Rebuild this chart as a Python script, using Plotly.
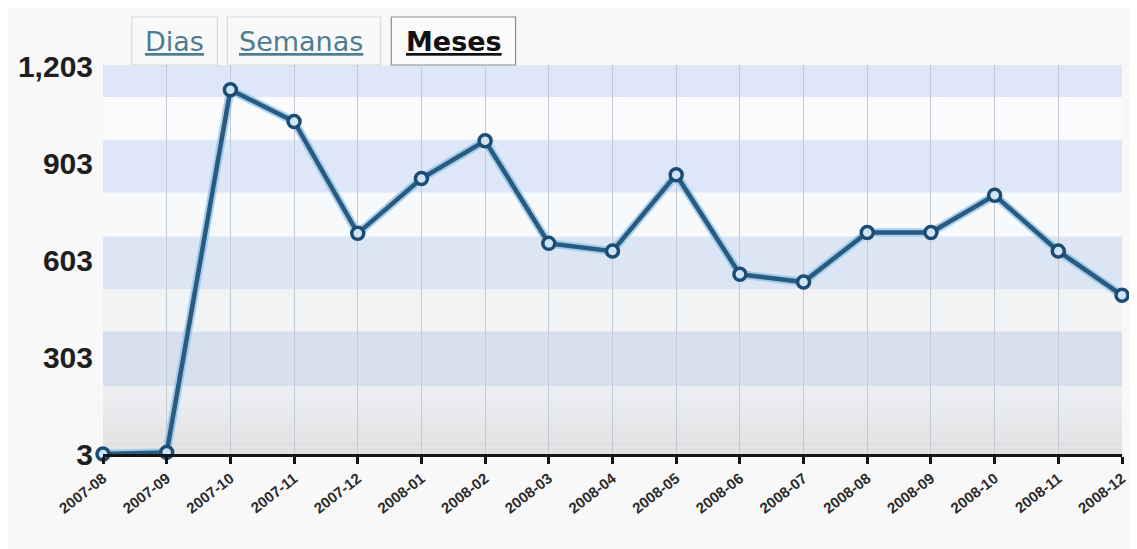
import plotly.graph_objects as go

# ---- data ----
months = ["2007-08", "2007-09", "2007-10", "2007-11", "2007-12", "2008-01", "2008-02",
          "2008-03", "2008-04", "2008-05", "2008-06", "2008-07", "2008-08", "2008-09",
          "2008-10", "2008-11", "2008-12"]
visits = [3, 8, 1132, 1034, 687, 857, 974, 656, 632, 869, 560, 536, 690, 690, 805, 632, 495]
y_tick_vals = [3, 303, 603, 903, 1203]
y_tick_text = ["3", "303", "603", "903", "1,203"]
tab_labels = ["Dias", "Semanas", "Meses"]

# ---- style constants ----
Y_MIN, Y_MAX = 3, 1209
band_edges = [1209, 1110, 977, 813, 677, 513, 383, 213]
band_colors = ["#dde7f8", "#fbfbfd", "#dde7f7", "#f8f9fb", "#dce5f4", "#f2f3f5", "#d6dfee"]
OFF = 8  # browser default body margin
PLOT_L, PLOT_R, PLOT_T, PLOT_B = 103, 1128, 65, 454  # page pixel positions
W, H = 1137 - OFF, 549 - OFF

def px_x(px):
    return (px - PLOT_L) / (PLOT_R - PLOT_L)

def px_y(py):
    return (PLOT_B - py) / (PLOT_B - PLOT_T)

x_idx = list(range(len(months)))

fig = go.Figure()

# halo under the line
fig.add_trace(go.Scatter(
    x=x_idx, y=visits, mode="lines",
    line=dict(color="rgba(140,195,235,0.75)", width=8.5),
    hoverinfo="skip", cliponaxis=False, showlegend=False))
# main line with ring markers
fig.add_trace(go.Scatter(
    x=x_idx, y=visits, mode="lines+markers",
    line=dict(color="#2a5a7f", width=4.5),
    marker=dict(symbol="circle", size=12, color="#cfe5f6",
                line=dict(color="#1d4c72", width=3.5)),
    cliponaxis=False, showlegend=False))

shapes = []
# stripes
for i in range(len(band_colors)):
    shapes.append(dict(type="rect", xref="paper", yref="y", x0=0, x1=1,
                       y0=band_edges[i + 1], y1=band_edges[i],
                       fillcolor=band_colors[i], line=dict(width=0), layer="below"))
# bottom gray gradient band
n = 10
top, bot = band_edges[-1], Y_MIN
c_top = (236, 238, 242)
c_bot = (225, 225, 226)
for k in range(n):
    t = k / (n - 1)
    c = tuple(int(round(c_top[j] + (c_bot[j] - c_top[j]) * t)) for j in range(3))
    y1 = top - (top - bot) * k / n
    y0 = top - (top - bot) * (k + 1) / n
    shapes.append(dict(type="rect", xref="paper", yref="y", x0=0, x1=1, y0=y0, y1=y1,
                       fillcolor="rgb(%d,%d,%d)" % c, line=dict(width=0), layer="below"))

# tabs
tab_boxes = [(132, 218, "#d9d9d9", "#f9f9f9"), (228, 382, "#d9d9d9", "#f9f9f9"),
             (393, 518, "#8e8e8e", "#fbfbfb")]
for (x0, x1, lc, fc) in tab_boxes:
    shapes.append(dict(type="rect", xref="paper", yref="paper",
                       x0=px_x(x0), x1=px_x(x1), y0=px_y(PLOT_T), y1=px_y(17),
                       fillcolor=fc, line=dict(color=lc, width=1.2), layer="below"))

annotations = []
tab_centers = [175, 302, 456]
tab_styles = [("#4d7c93", False), ("#4d7c93", False), ("#111111", True)]
for lab, cx, (col, bold) in zip(tab_labels, tab_centers, tab_styles):
    txt = "<u>%s</u>" % lab
    if bold:
        txt = "<b>%s</b>" % txt
    annotations.append(dict(text=txt, x=px_x(cx), y=px_y(41), xref="paper", yref="paper",
                            xanchor="center", yanchor="middle", showarrow=False,
                            font=dict(family="DejaVu Sans", size=27, color=col)))

fig.update_layout(
    width=W, height=H,
    margin=dict(l=PLOT_L - OFF, r=1137 - PLOT_R, t=PLOT_T - OFF, b=549 - PLOT_B),
    paper_bgcolor="#f8f8f8", plot_bgcolor="#f8f8f8",
    shapes=shapes, annotations=annotations,
    xaxis=dict(range=[0, len(months) - 1], tickmode="array", tickvals=x_idx,
               ticktext=["<b>%s</b>" % m for m in months],
               tickangle=-38, showgrid=True, gridcolor="#c3cad6", gridwidth=1,
               showline=True, linecolor="#151515", linewidth=3,
               ticks="outside", ticklen=7, tickwidth=3, tickcolor="#151515",
               tickfont=dict(family="Liberation Sans", size=15, color="#2b2b2b"),
               zeroline=False, fixedrange=True),
    yaxis=dict(range=[Y_MIN, Y_MAX], tickmode="array", tickvals=y_tick_vals,
               ticktext=["<b>%s</b>" % t for t in y_tick_text],
               showgrid=False, zeroline=False, showline=False, ticks="",
               ticklabelstandoff=9,
               tickfont=dict(family="Liberation Sans", size=30, color="#1e1e1e"),
               fixedrange=True),
    font=dict(family="Liberation Sans"),
)

fig.write_html("out.html")
